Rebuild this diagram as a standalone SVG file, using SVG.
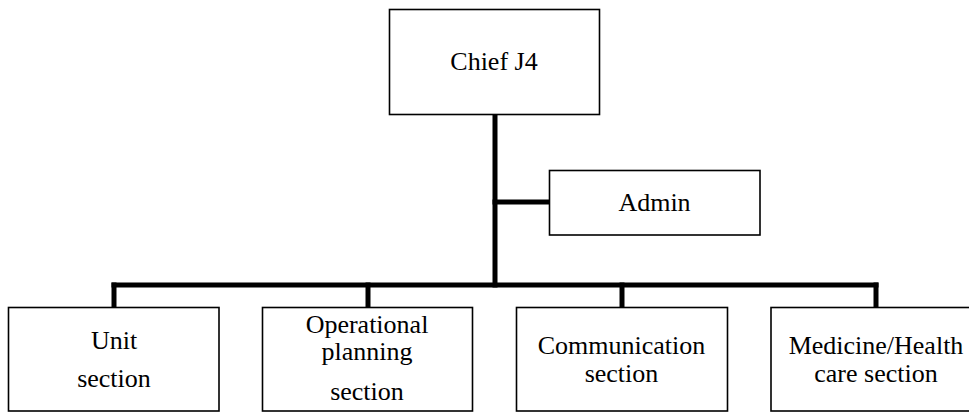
<svg xmlns="http://www.w3.org/2000/svg" width="969" height="412" viewBox="0 0 969 412">
  <style>
    .box { fill: #ffffff; stroke: #000000; stroke-width: 1.6; }
    .link { fill: none; stroke: #000000; stroke-width: 5; stroke-linecap: square; }
    .lbl { font-family: "Liberation Serif", "Times New Roman", serif; font-size: 26px; fill: #000000; text-anchor: middle; }
  </style>
  <rect width="969" height="412" fill="#ffffff"/>

  <g id="connectors">
    <line class="link" x1="495" y1="114" x2="495" y2="285"/>
    <line class="link" x1="495" y1="202" x2="549" y2="202"/>
    <line class="link" x1="114" y1="285" x2="876" y2="285"/>
    <line class="link" x1="114" y1="285" x2="114" y2="307"/>
    <line class="link" x1="368" y1="285" x2="368" y2="307"/>
    <line class="link" x1="622" y1="285" x2="622" y2="307"/>
    <line class="link" x1="876" y1="285" x2="876" y2="307"/>
  </g>

  <g id="chief">
    <rect class="box" x="389.5" y="9.5" width="210" height="105"/>
    <text class="lbl" x="494" y="69.5">Chief J4</text>
  </g>

  <g id="admin">
    <rect class="box" x="549.5" y="170.5" width="210.5" height="64.5"/>
    <text class="lbl" x="654.5" y="211">Admin</text>
  </g>

  <g id="unit">
    <rect class="box" x="8.5" y="307.5" width="210.5" height="103.5"/>
    <text class="lbl" x="114" y="349">Unit</text>
    <text class="lbl" x="114" y="387">section</text>
  </g>

  <g id="operational">
    <rect class="box" x="262.5" y="307.5" width="210" height="103.5"/>
    <text class="lbl" x="367" y="333">Operational</text>
    <text class="lbl" x="367" y="360">planning</text>
    <text class="lbl" x="367" y="400">section</text>
  </g>

  <g id="communication">
    <rect class="box" x="516.5" y="307.5" width="211" height="103.5"/>
    <text class="lbl" x="621.5" y="354">Communication</text>
    <text class="lbl" x="621.5" y="382">section</text>
  </g>

  <g id="medicine">
    <rect class="box" x="771" y="307.5" width="211" height="103.5"/>
    <text class="lbl" x="876" y="354">Medicine/Health</text>
    <text class="lbl" x="876" y="382">care section</text>
  </g>
</svg>
